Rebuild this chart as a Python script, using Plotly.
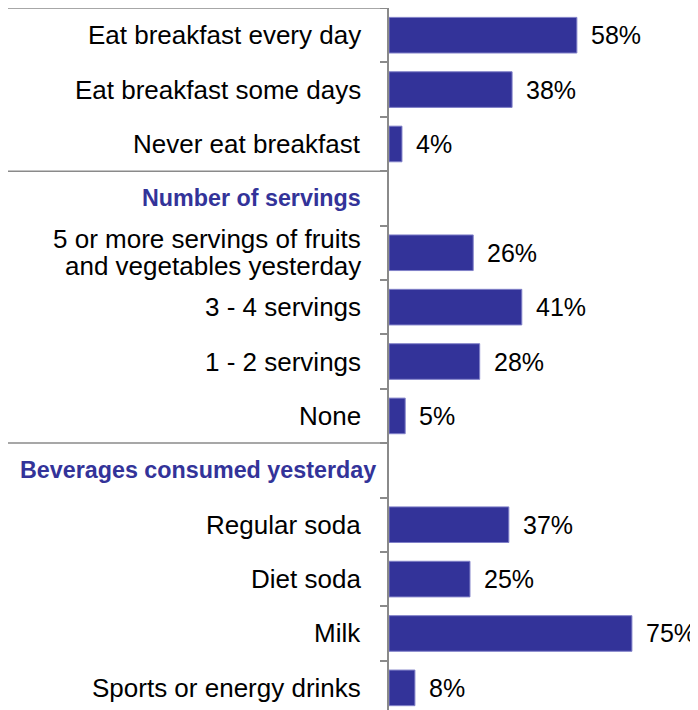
import plotly.graph_objects as go

# ---- data ----
row_labels = [
    "Eat breakfast every day",
    "Eat breakfast some days",
    "Never eat breakfast",
    "Number of servings",
    "5 or more servings of fruits<br>and vegetables yesterday",
    "3 - 4 servings",
    "1 - 2 servings",
    "None",
    "Beverages consumed yesterday",
    "Regular soda",
    "Diet soda",
    "Milk",
    "Sports or energy drinks",
]
values = [58, 38, 4, None, 26, 41, 28, 5, None, 37, 25, 75, 8]
section_headers = ["Number of servings", "Beverages consumed yesterday"]

BAR = "#333399"
GRAY = "#8a8a8a"
FONT = "Liberation Sans, Arial, sans-serif"
LINE_GAP = 27  # px between lines of a wrapped label

ypos = list(range(len(row_labels)))
bar_y = [y for y, v in zip(ypos, values) if v is not None]
bar_x = [v for v in values if v is not None]

fig = go.Figure()
fig.add_trace(go.Bar(
    x=bar_x, y=bar_y, orientation="h", width=0.655,
    marker=dict(color=BAR, line=dict(color="#8080c8", width=1)),
    hoverinfo="skip",
))

annotations = []
for y, lab, v in zip(ypos, row_labels, values):
    if lab in section_headers:
        annotations.append(dict(
            xref="paper", yref="y",
            x=-0.085 if lab != "Beverages consumed yesterday" else -0.035,
            y=y, xanchor="right", yanchor="middle", showarrow=False,
            text="<b>" + lab + "</b>", font=dict(family=FONT, size=23.3, color=BAR)))
    else:
        lines = lab.split("<br>")
        n = len(lines)
        for i, ln in enumerate(lines):
            annotations.append(dict(
                xref="paper", yref="y", x=-0.085, y=y, xanchor="right", yanchor="middle",
                yshift=((n - 1) / 2 - i) * LINE_GAP,
                showarrow=False, align="right", text=ln,
                font=dict(family=FONT, size=26, color="#000000")))
    if v is not None:
        annotations.append(dict(
            xref="x", yref="y", x=v, y=y, xanchor="left", yanchor="middle",
            xshift=12, showarrow=False, text=f"{v}%",
            font=dict(family=FONT, size=25, color="#000000")))

# separator lines between sections
shapes = []
for b in [-0.5, 2.5, 7.5]:
    shapes.append(dict(type="line", xref="paper", yref="y", x0=-1.233, x1=0,
                       y0=b, y1=b, line=dict(color=GRAY, width=1.5)))

# page body has an 8px margin, so the figure is drawn 8px in from the top-left
fig.update_layout(
    width=690, height=702,
    margin=dict(l=381, r=0, t=0, b=0),
    paper_bgcolor="white", plot_bgcolor="white",
    showlegend=False,
    annotations=annotations,
    shapes=shapes,
    xaxis=dict(range=[0, 95.4], showgrid=False, zeroline=False, showline=False,
               showticklabels=False, ticks=""),
    yaxis=dict(range=[12.407, -0.5], showgrid=False, zeroline=False,
               showline=True, linecolor=GRAY, linewidth=2,
               ticks="outside", ticklen=7, tickcolor=GRAY, tickwidth=1.5,
               tickmode="linear", tick0=-0.5, dtick=1, showticklabels=False),
)

fig.write_html("out.html")
